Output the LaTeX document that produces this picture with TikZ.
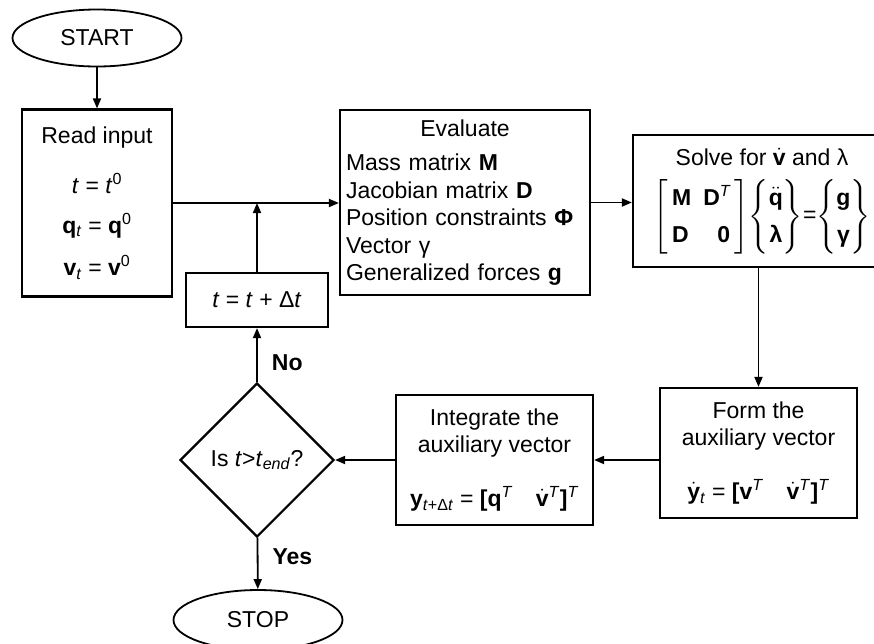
\documentclass[tikz,border=0pt]{standalone}
\usepackage{amsmath}
\usepackage{fontspec}
\setmainfont{Liberation Sans}
\usepackage{tikz}
\usetikzlibrary{arrows.meta,shapes.geometric,positioning}

\begin{document}
\begin{tikzpicture}[
  x=1pt,y=-1pt,
  font=\fontsize{23}{27.5}\selectfont,
  box/.style={draw,line width=2.2pt,inner sep=0pt,align=center},
  term/.style={draw,ellipse,line width=1.8pt,minimum width=169pt,inner sep=0pt},
  decision/.style={draw,diamond,aspect=1,line width=2.2pt,
                   minimum width=154pt,minimum height=154pt,inner sep=0pt},
  arr/.style={-{Triangle[length=10pt,width=8pt]},line width=1.8pt},
  lbl/.style={font=\fontsize{23}{27.5}\selectfont\bfseries,inner sep=0pt,right=14pt},
]
  \useasboundingbox (0,0) rectangle (874,643);

  \node[term,minimum height=57pt] (start) at (97,38) {START};
  \node[box,minimum width=150pt,minimum height=187pt] (read) at (97,203)
    {Read input\\[23pt]
     \textit{t} = \textit{t}\textsuperscript{0}\\[12pt]
     \textbf{q}\textsubscript{\textit{t}} = \textbf{q}\textsuperscript{0}\\[15pt]
     \textbf{v}\textsubscript{\textit{t}} = \textbf{v}\textsuperscript{0}};
  \node[box,minimum width=142pt,minimum height=54pt] (incr) at (257,300)
    {\textit{t} = \textit{t} + Δ\textit{t}};
  \node[box,minimum width=250pt,minimum height=185pt,text width=238pt,align=left] (eval) at (465,202.5)
    {\makebox[\linewidth]{Evaluate}\\[7pt]
     Mass matrix \textbf{M}\\
     Jacobian matrix \textbf{D}\\
     Position constraints \textbf{Φ}\\
     Vector γ\\
     Generalized forces \textbf{g}};
  \node[box,minimum width=258pt,minimum height=132pt] (solve) at (762,201)
    {Solve for $\dot{\textbf{v}}$ and λ\\[12pt]
     $\renewcommand{\arraystretch}{1.35}
      \left[\begin{array}{@{\,}l@{\hspace{12pt}}r@{\,}}
        \textbf{M} & \textbf{D}^{\textit{T}}\\
        \textbf{D} & \textbf{0}
      \end{array}\right]\!
      \left\{\begin{array}{@{}c@{}}
        \ddot{\textbf{q}}\\ \textbf{λ}
      \end{array}\right\}\!
      \mbox{=}\!
      \left\{\begin{array}{@{}c@{}}
        \textbf{g}\\ \textbf{γ}
      \end{array}\right\}$};
  \node[box,minimum width=197pt,minimum height=130pt] (form) at (758.5,453)
    {Form the\\auxiliary vector\\[26pt]
     $\dot{\textbf{y}}$\textsubscript{\textit{t}} =
     \textbf{[}\textbf{v}\textsuperscript{\textit{T}}\quad
     $\dot{\textbf{v}}$\textsuperscript{\textit{T}}\textbf{]}\textsuperscript{\textit{T}}};
  \node[box,minimum width=197pt,minimum height=130pt] (integ) at (494.5,460)
    {Integrate the\\auxiliary vector\\[26pt]
     \textbf{y}\textsubscript{\textit{t}+Δ\textit{t}} =
     \textbf{[}\textbf{q}\textsuperscript{\textit{T}}\quad
     $\dot{\textbf{v}}$\textsuperscript{\textit{T}}\textbf{]}\textsuperscript{\textit{T}}};
  \node[decision] (decide) at (257,460)
    {Is \textit{t}>\textit{t}\textsubscript{\textit{end}}?};
  \node[term,minimum height=60pt] (stop) at (258,620) {STOP};

  \draw[arr] (start) -- (read);
  \draw[arr] (read.east) -- (read.east -| eval.west);
  \draw[arr] (incr) -- (incr |- read.east);
  \draw[arr] (eval.east) -- (eval.east -| solve.west);
  \draw[arr] (form.north |- solve.south) -- (form.north);
  \draw[arr] (form.west |- integ.east) -- (integ.east);
  \draw[arr] (integ) -- (decide);
  \draw[arr] (decide) -- node[lbl,pos=0.35] {No} (incr);
  \draw[arr] (decide) -- node[lbl,pos=0.38] {Yes} (stop);
\end{tikzpicture}
\end{document}
